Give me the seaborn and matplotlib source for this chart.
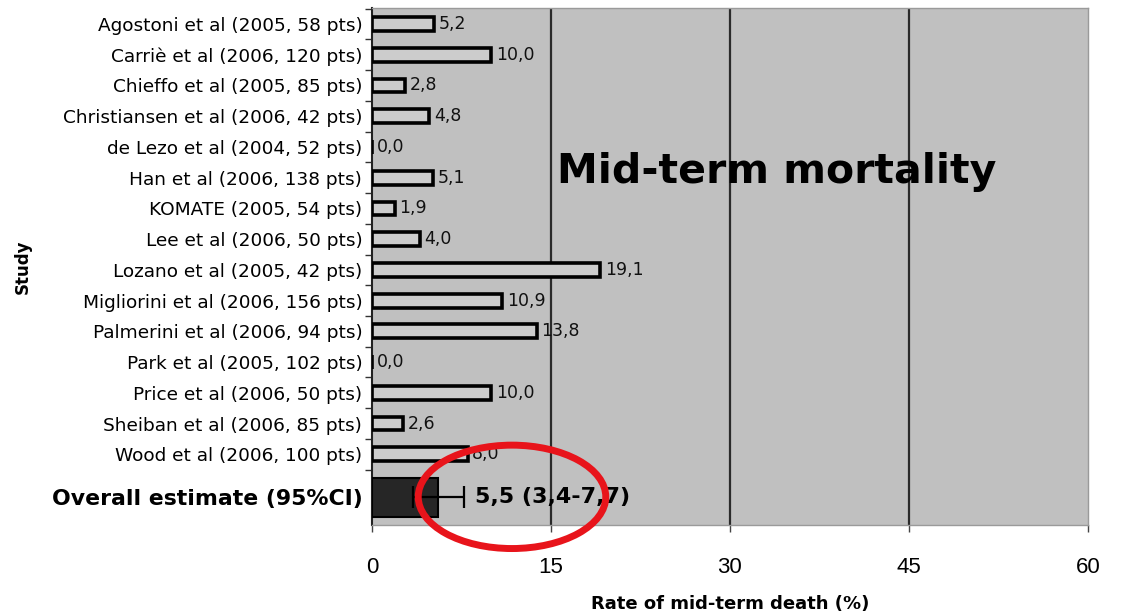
import matplotlib
matplotlib.use("Agg")
import matplotlib.pyplot as plt
from matplotlib.patches import Ellipse
import numpy as np
import pandas as pd
import seaborn as sns

STUDIES = [
    "Agostoni et al (2005, 58 pts)",
    "Carriè et al (2006, 120 pts)",
    "Chieffo et al (2005, 85 pts)",
    "Christiansen et al (2006, 42 pts)",
    "de Lezo et al (2004, 52 pts)",
    "Han et al (2006, 138 pts)",
    "KOMATE (2005, 54 pts)",
    "Lee et al (2006, 50 pts)",
    "Lozano et al (2005, 42 pts)",
    "Migliorini et al (2006, 156 pts)",
    "Palmerini et al (2006, 94 pts)",
    "Park et al (2005, 102 pts)",
    "Price et al (2006, 50 pts)",
    "Sheiban et al (2006, 85 pts)",
    "Wood et al (2006, 100 pts)",
]
RATES = [5.2, 10.0, 2.8, 4.8, 0.0, 5.1, 1.9, 4.0, 19.1, 10.9, 13.8, 0.0, 10.0, 2.6, 8.0]

OVERALL_LABEL = "Overall estimate (95%CI)"
OVERALL = 5.5
OVERALL_LO = 3.4
OVERALL_HI = 7.7

X_TICKS = [0, 15, 30, 45, 60]
BG = "#c0c0c0"
BAR_FILL = "#cccccc"


def fmt(v: float) -> str:
    return f"{v:.1f}".replace(".", ",")


sns.set_theme(style="white")
plt.rcParams["font.family"] = ["DejaVu Sans"]
plt.rcParams["text.color"] = "black"
plt.rcParams["axes.labelcolor"] = "black"
plt.rcParams["xtick.color"] = "black"
plt.rcParams["ytick.color"] = "black"

fig = plt.figure(figsize=(11.22, 6.16), dpi=100)
ax = fig.add_axes([0.3316, 0.1477, 0.638, 0.8393])
ax.set_facecolor(BG)

df = pd.DataFrame({"study": STUDIES, "rate": RATES})
sns.barplot(data=df, x="rate", y="study", orient="h", color=BAR_FILL, saturation=1,
            edgecolor="black", linewidth=2.6, width=0.45, ax=ax, zorder=3)

# overall estimate, a bit further down than the study rows
y_all = len(STUDIES) + 0.4
ax.barh(y_all, OVERALL, height=1.27, color="#262626", edgecolor="black",
        linewidth=1.5, zorder=3)
ax.errorbar(OVERALL, y_all, xerr=[[OVERALL - OVERALL_LO], [OVERALL_HI - OVERALL]],
            fmt="none", ecolor="black", elinewidth=1.6, capsize=8, capthick=1.6,
            zorder=4)

for i, v in enumerate(RATES):
    ax.text(v + 0.4, i, fmt(v), va="center", ha="left", fontsize=12.5,
            color="#111111", zorder=5)
ax.text(OVERALL_HI + 0.9, y_all, f"{fmt(OVERALL)} ({fmt(OVERALL_LO)}-{fmt(OVERALL_HI)})",
        va="center", ha="left", fontsize=16, fontweight="bold", zorder=5)

# dark vertical gridlines
for xv in X_TICKS[1:-1]:
    ax.axvline(xv, color="#2a2a2a", linewidth=1.6, zorder=2)

ax.set_xlim(0, 60)
ax.set_ylim(16.3, -0.52)
ax.set_xticks(X_TICKS)
ax.set_xticklabels([str(t) for t in X_TICKS], fontsize=16,
                   family=["Liberation Sans Narrow", "Liberation Sans", "DejaVu Sans"])
ax.tick_params(axis="x", length=5, width=1, color="#444444", pad=18, bottom=True)

ax.set_yticks(list(range(len(STUDIES))) + [y_all])
ax.set_yticklabels(STUDIES + [OVERALL_LABEL], fontsize=13.3)
ax.get_yticklabels()[-1].set_fontweight("bold")
ax.get_yticklabels()[-1].set_fontsize(15.8)
ax.tick_params(axis="y", length=0, pad=7)
ax.set_yticks(np.arange(-0.5, len(STUDIES) + 0.5, 1), minor=True)
ax.tick_params(axis="y", which="minor", length=5, width=1, color="#333333", left=True)

ax.set_ylabel("Study", fontsize=12, fontweight="bold")
ax.yaxis.set_label_coords(-0.475, 0.50)
ax.set_xlabel("Rate of mid-term death (%)", fontsize=13, fontweight="bold", labelpad=12)

for side in ["top", "right", "bottom"]:
    ax.spines[side].set_color("#9a9a9a")
    ax.spines[side].set_linewidth(1)
ax.spines["left"].set_color("#222222")
ax.spines["left"].set_linewidth(1.5)

ax.text(0.258, 0.683, "Mid-term mortality", transform=ax.transAxes,
        fontsize=29.5, fontweight="bold", color="black", ha="left", va="center",
        zorder=6)

ell = Ellipse((0.1955, 0.0545), width=0.262, height=0.2, transform=ax.transAxes,
              fill=False, edgecolor="#e8141b", linewidth=5, clip_on=False, zorder=7)
ax.add_patch(ell)

fig.savefig("out.png", dpi=100)
